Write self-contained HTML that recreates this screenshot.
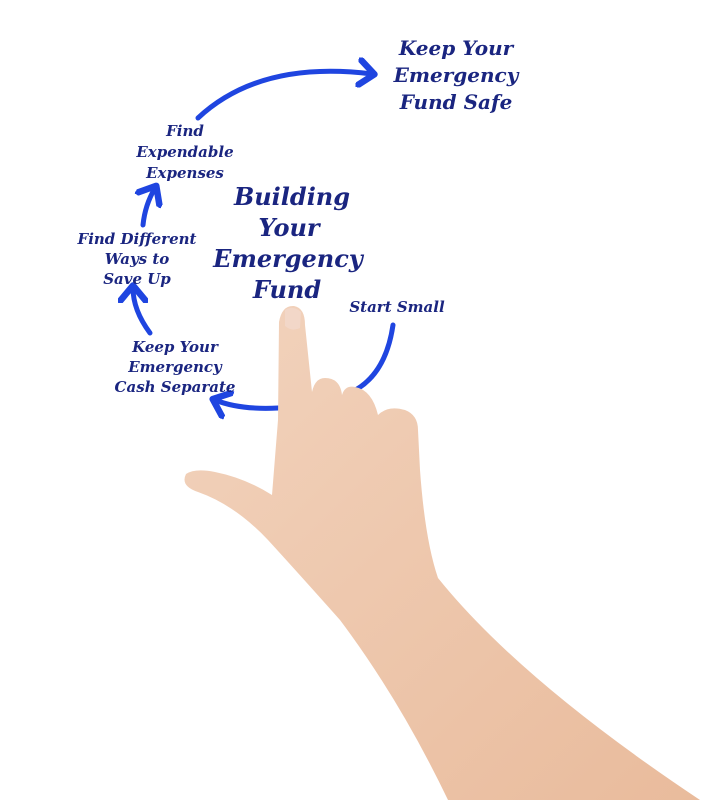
<!DOCTYPE html>
<html><head><meta charset="utf-8"><style>
html,body{margin:0;padding:0;background:#fff;width:721px;height:800px;overflow:hidden}
text{font-family:"DejaVu Serif","Liberation Serif",serif;font-style:italic;font-weight:bold;fill:#1a2580}
</style></head><body>
<svg width="721" height="800" viewBox="0 0 721 800" xmlns="http://www.w3.org/2000/svg">
<defs>
<marker id="ah" markerWidth="6" markerHeight="6" refX="3" refY="3" orient="auto" markerUnits="strokeWidth">
<path d="M0.5,0.5 L3.5,3 L0.5,5.5" fill="none" stroke="#1f45e0" stroke-width="1.3" stroke-linecap="round" stroke-linejoin="round"/>
</marker>
<linearGradient id="sk" x1="0" y1="0" x2="1" y2="1">
<stop offset="0" stop-color="#f2d3bd"/><stop offset="1" stop-color="#e9bb9c"/>
</linearGradient>
</defs>
<g fill="none" stroke="#1f45e0" stroke-width="5" stroke-linecap="round">
<path d="M198,118 Q260,60 372,74" marker-end="url(#ah)"/>
<path d="M143,225 Q145,205 155,188" marker-end="url(#ah)"/>
<path d="M150,333 Q133,310 133,288" marker-end="url(#ah)"/>
<path d="M393,325 Q385,380 345,395" />
<path d="M278,408 Q240,410 215,400" marker-end="url(#ah)"/>
</g>
<g font-size="20" text-anchor="middle">
<text x="456" y="55">Keep Your</text>
<text x="456" y="82">Emergency</text>
<text x="456" y="109">Fund Safe</text>
</g>
<g font-size="15" text-anchor="middle">
<text x="185" y="136">Find</text>
<text x="185" y="157">Expendable</text>
<text x="185" y="178">Expenses</text>
<text x="137" y="244">Find Different</text>
<text x="137" y="264">Ways to</text>
<text x="137" y="284">Save Up</text>
<text x="175" y="352">Keep Your</text>
<text x="175" y="372">Emergency</text>
<text x="175" y="392">Cash Separate</text>
<text x="397" y="312">Start Small</text>
</g>
<g font-size="24" text-anchor="middle">
<text x="292" y="205">Building</text>
<text x="289" y="236">Your</text>
<text x="288" y="267">Emergency</text>
<text x="287" y="298">Fund</text>
</g>
<path fill="url(#sk)" d="M279,322 Q282,305 294,306 Q305,308 305,325 L312,392 Q315,378 325,378 Q340,378 342,395 Q345,385 355,387 Q372,390 378,415 Q388,405 405,410 Q418,415 418,430 L420,470 Q425,540 438,578 Q520,680 700,800 L448,800 Q400,700 340,620 Q300,575 268,540 Q235,505 198,492 Q180,486 186,474 Q195,468 215,472 Q245,478 272,495 L278,420 Z"/>
<path d="M285,310 Q293,305 301,312 L300,328 Q292,332 285,326 Z" fill="#f3d8cc" opacity="0.8"/>
</svg>
</body></html>
